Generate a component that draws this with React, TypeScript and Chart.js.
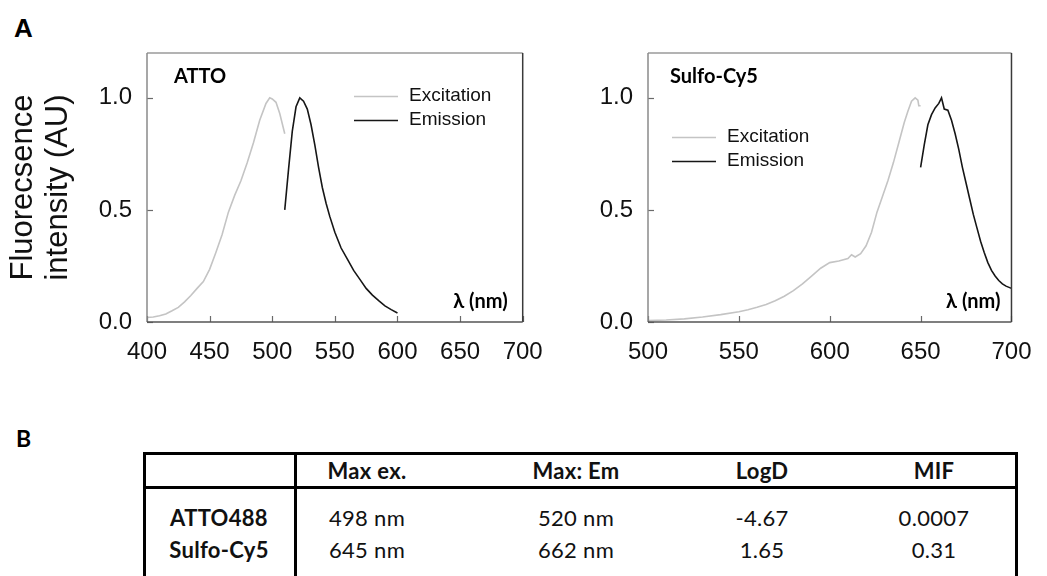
import React, { useEffect, useRef } from "react";
import { Chart, registerables } from "chart.js";
Chart.register(...registerables);

// ---------- data ----------
const attoExWl = [400, 405, 410, 415, 420, 425, 430, 435, 440, 445, 450, 455, 460, 465, 470, 475, 480, 485, 490, 495, 498, 500, 503, 506, 510];
const attoExVal = [0.02, 0.022, 0.028, 0.036, 0.05, 0.065, 0.09, 0.118, 0.15, 0.18, 0.235, 0.31, 0.39, 0.49, 0.565, 0.63, 0.71, 0.8, 0.9, 0.975, 1.0, 0.995, 0.98, 0.93, 0.84];
const attoEmWl = [510, 513, 516, 519, 522, 525, 528, 531, 534, 537, 540, 543, 546, 550, 555, 560, 565, 570, 575, 580, 585, 590, 595, 600];
const attoEmVal = [0.5, 0.68, 0.85, 0.96, 1.0, 0.985, 0.95, 0.88, 0.79, 0.69, 0.6, 0.53, 0.47, 0.4, 0.33, 0.28, 0.23, 0.19, 0.15, 0.12, 0.095, 0.072, 0.055, 0.04];

const cyExWl = [500, 510, 520, 530, 540, 550, 555, 560, 565, 570, 575, 580, 585, 590, 595, 600, 605, 610, 612, 614, 617, 620, 623, 626, 629, 632, 635, 638, 641, 643, 645, 647, 648.5, 649, 650];
const cyExVal = [0.006, 0.009, 0.014, 0.022, 0.033, 0.046, 0.055, 0.066, 0.078, 0.095, 0.115, 0.14, 0.17, 0.205, 0.24, 0.265, 0.272, 0.283, 0.3, 0.29, 0.305, 0.34, 0.4, 0.49, 0.56, 0.63, 0.71, 0.8, 0.89, 0.94, 0.985, 1.0, 0.99, 0.965, 0.965];
const cyEmWl = [650, 652, 654, 656, 658, 660, 661.5, 663, 665, 667, 669, 671, 673, 675, 677, 679, 681, 683, 685, 687, 689, 691, 693, 695, 697, 700];
const cyEmVal = [0.69, 0.79, 0.88, 0.925, 0.955, 0.975, 1.0, 0.95, 0.945, 0.9, 0.84, 0.77, 0.69, 0.62, 0.55, 0.48, 0.42, 0.36, 0.31, 0.265, 0.23, 0.205, 0.185, 0.17, 0.16, 0.15];

const attoXTicks = [400, 450, 500, 550, 600, 650, 700];
const cyXTicks = [500, 550, 600, 650, 700];
const yTicks = [0, 0.5, 1.0];

const seriesNames = ["Excitation", "Emission"];
const yTitle = ["Fluorecsence", "intensity (AU)"];

const tableHeaders = ["", "Max ex.", "Max: Em", "LogD", "MIF"];
const tableRowNames = ["ATTO488", "Sulfo-Cy5"];
const tableMaxEx = ["498 nm", "645 nm"];
const tableMaxEm = ["520 nm", "662 nm"];
const tableLogD = ["-4.67", "1.65"];
const tableMIF = ["0.0007", "0.31"];

// ---------- styles ----------
const EX_COLOR = "#c4c4c4";
const EM_COLOR = "#161616";
const ARIAL = "'Liberation Sans', Arial, sans-serif";
const CAL = "Lato, 'Open Sans', sans-serif";

const pts = (xs: number[], ys: number[]) => xs.map((x, i) => ({ x, y: ys[i] }));

type Deco = {
  name: string;
  nameDx: number;
  lambdaDx: number;
  legendDx: number;
  legendY: number;
};

const framePlugin = (d: Deco) => ({
  id: "frame",
  afterDraw(chart: any) {
    const { ctx, chartArea, scales } = chart;
    const { left, right, top, bottom } = chartArea;
    ctx.save();
    ctx.strokeStyle = "#6a6a6a";
    ctx.lineWidth = 1.2;
    scales.x.ticks.forEach((t: any) => {
      const px = Math.round(scales.x.getPixelForValue(t.value)) + 0.5;
      ctx.beginPath();
      ctx.moveTo(px, bottom);
      ctx.lineTo(px, bottom - 6);
      ctx.stroke();
    });
    scales.y.ticks.forEach((t: any) => {
      const py = Math.round(scales.y.getPixelForValue(t.value)) + 0.5;
      ctx.beginPath();
      ctx.moveTo(left, py);
      ctx.lineTo(left + 6, py);
      ctx.stroke();
    });
    const seg = (x1: number, y1: number, x2: number, y2: number, c: string) => {
      ctx.strokeStyle = c;
      ctx.lineWidth = 1.5;
      ctx.beginPath();
      ctx.moveTo(x1, y1);
      ctx.lineTo(x2, y2);
      ctx.stroke();
    };
    seg(left, top, right, top, "#9a9a9a");
    seg(left, top, left, bottom, "#8a8a8a");
    seg(right, top, right, bottom, "#3a3a3a");
    seg(left, bottom, right, bottom, "#555555");
    ctx.fillStyle = "#000";
    ctx.font = `bold 20px ${CAL}`;
    ctx.textBaseline = "middle";
    ctx.textAlign = "left";
    ctx.fillText(d.name, left + d.nameDx, top + 24);
    ctx.textAlign = "right";
    ctx.fillText("λ (nm)", right - d.lambdaDx, bottom - 20);
    const colors = [EX_COLOR, EM_COLOR];
    ctx.font = `19px ${ARIAL}`;
    ctx.textAlign = "left";
    seriesNames.forEach((n, i) => {
      const y = d.legendY + i * 24;
      ctx.strokeStyle = colors[i];
      ctx.lineWidth = 1.5;
      ctx.beginPath();
      ctx.moveTo(left + d.legendDx, y + 0.5);
      ctx.lineTo(left + d.legendDx + 44, y + 0.5);
      ctx.stroke();
      ctx.fillStyle = "#111";
      ctx.fillText(n, left + d.legendDx + 55, y);
    });
    ctx.restore();
  },
});

function makeConfig(opts: {
  ex: { x: number; y: number }[];
  em: { x: number; y: number }[];
  xMin: number;
  xMax: number;
  xTicks: number[];
  yWidth: number;
  padRight: number;
  showTitle: boolean;
  deco: Deco;
}) {
  return {
    type: "line",
    data: {
      datasets: [
        { label: seriesNames[0], data: opts.ex, borderColor: EX_COLOR, borderWidth: 1.6, pointRadius: 0, tension: 0, fill: false },
        { label: seriesNames[1], data: opts.em, borderColor: EM_COLOR, borderWidth: 1.6, pointRadius: 0, tension: 0, fill: false },
      ],
    },
    options: {
      responsive: false,
      animation: false,
      devicePixelRatio: 1,
      layout: { padding: { top: 53, right: opts.padRight, left: 0, bottom: 0 } },
      plugins: { legend: { display: false }, tooltip: { enabled: false } },
      scales: {
        x: {
          type: "linear",
          min: opts.xMin,
          max: opts.xMax,
          grid: { display: false, drawTicks: false },
          border: { display: false },
          afterBuildTicks: (s: any) => {
            s.ticks = opts.xTicks.map((v) => ({ value: v }));
          },
          afterFit: (s: any) => {
            s.height = 58;
          },
          ticks: {
            color: "#111",
            padding: 15.5,
            font: { family: ARIAL, size: 24 },
            maxRotation: 0,
            callback: (v: number) => String(v),
          },
        },
        y: {
          type: "linear",
          min: 0,
          max: 1.2,
          grid: { display: false, drawTicks: false },
          border: { display: false },
          afterBuildTicks: (s: any) => {
            s.ticks = yTicks.map((v) => ({ value: v }));
          },
          afterFit: (s: any) => {
            s.width = opts.yWidth;
          },
          ticks: {
            color: "#111",
            padding: 15,
            font: { family: ARIAL, size: 24 },
            callback: (v: number) => Number(v).toFixed(1),
          },
          title: {
            display: opts.showTitle,
            text: yTitle,
            color: "#111",
            font: { family: ARIAL, size: 31, lineHeight: 1.13 },
            padding: { top: 5.5, bottom: 0 },
          },
        },
      },
    },
    plugins: [framePlugin(opts.deco)],
  };
}

function ChartCanvas({ config, left, width }: { config: any; left: number; width: number }) {
  const ref = useRef<HTMLCanvasElement | null>(null);
  useEffect(() => {
    if (!ref.current) return;
    const c = new Chart(ref.current, config);
    return () => c.destroy();
  }, []);
  return (
    <canvas
      ref={ref}
      width={width}
      height={380}
      style={{ position: "absolute", left, top: 0, width, height: 380 }}
    />
  );
}

export default function App() {
  const leftCfg = makeConfig({
    ex: pts(attoExWl, attoExVal),
    em: pts(attoEmWl, attoEmVal),
    xMin: 400,
    xMax: 700,
    xTicks: attoXTicks,
    yWidth: 147,
    padRight: 560 - 522.7,
    showTitle: true,
    deco: { name: "ATTO", nameDx: 27, lambdaDx: 15, legendDx: 207, legendY: 96 },
  });
  const rightCfg = makeConfig({
    ex: pts(cyExWl, cyExVal),
    em: pts(cyEmWl, cyEmVal),
    xMin: 500,
    xMax: 700,
    xTicks: cyXTicks,
    yWidth: 88,
    padRight: 487 - (1023.3 - 560),
    showTitle: false,
    deco: { name: "Sulfo-Cy5", nameDx: 22, lambdaDx: 11, legendDx: 24, legendY: 137 },
  });

  const colCenters = [219, 367, 576, 762, 934];
  const rows = tableRowNames.map((n, i) => [n, tableMaxEx[i], tableMaxEm[i], tableLogD[i], tableMIF[i]]);
  const rowY = [518, 550];

  const cell = (text: string, cx: number, cy: number, bold: boolean, key: string) => (
    <div
      key={key}
      style={{
        position: "absolute",
        left: cx - 100,
        top: cy - 13,
        width: 200,
        height: 26,
        lineHeight: "26px",
        textAlign: "center",
        fontFamily: CAL,
        fontSize: 22,
        letterSpacing: "0.3px",
        fontWeight: bold ? 700 : 400,
        color: "#111",
        whiteSpace: "nowrap",
      }}
    >
      {text}
    </div>
  );

  return (
    <div style={{ position: "absolute", left: 0, top: 0, width: 1047, height: 576, overflow: "hidden", background: "#fff" }}>
      <div style={{ position: "absolute", left: 14, top: 12, fontFamily: ARIAL, fontWeight: 700, fontSize: 26, lineHeight: "32px", color: "#000" }}>A</div>
      <ChartCanvas config={leftCfg} left={0} width={560} />
      <ChartCanvas config={rightCfg} left={560} width={487} />
      <div style={{ position: "absolute", left: 16, top: 424, fontFamily: CAL, fontWeight: 700, fontSize: 23, lineHeight: "28px", color: "#000" }}>B</div>
      <div style={{ position: "absolute", left: 143, top: 452, width: 875, height: 170, border: "3px solid #000", boxSizing: "border-box" }} />
      <div style={{ position: "absolute", left: 143, top: 486, width: 875, height: 3, background: "#000" }} />
      <div style={{ position: "absolute", left: 294, top: 452, width: 3, height: 170, background: "#000" }} />
      {tableHeaders.map((h, i) => (h ? cell(h, colCenters[i], 471, true, "h" + i) : null))}
      {rows.map((r, ri) => r.map((v, ci) => cell(v, colCenters[ci], rowY[ri], ci === 0, `r${ri}c${ci}`)))}
    </div>
  );
}
